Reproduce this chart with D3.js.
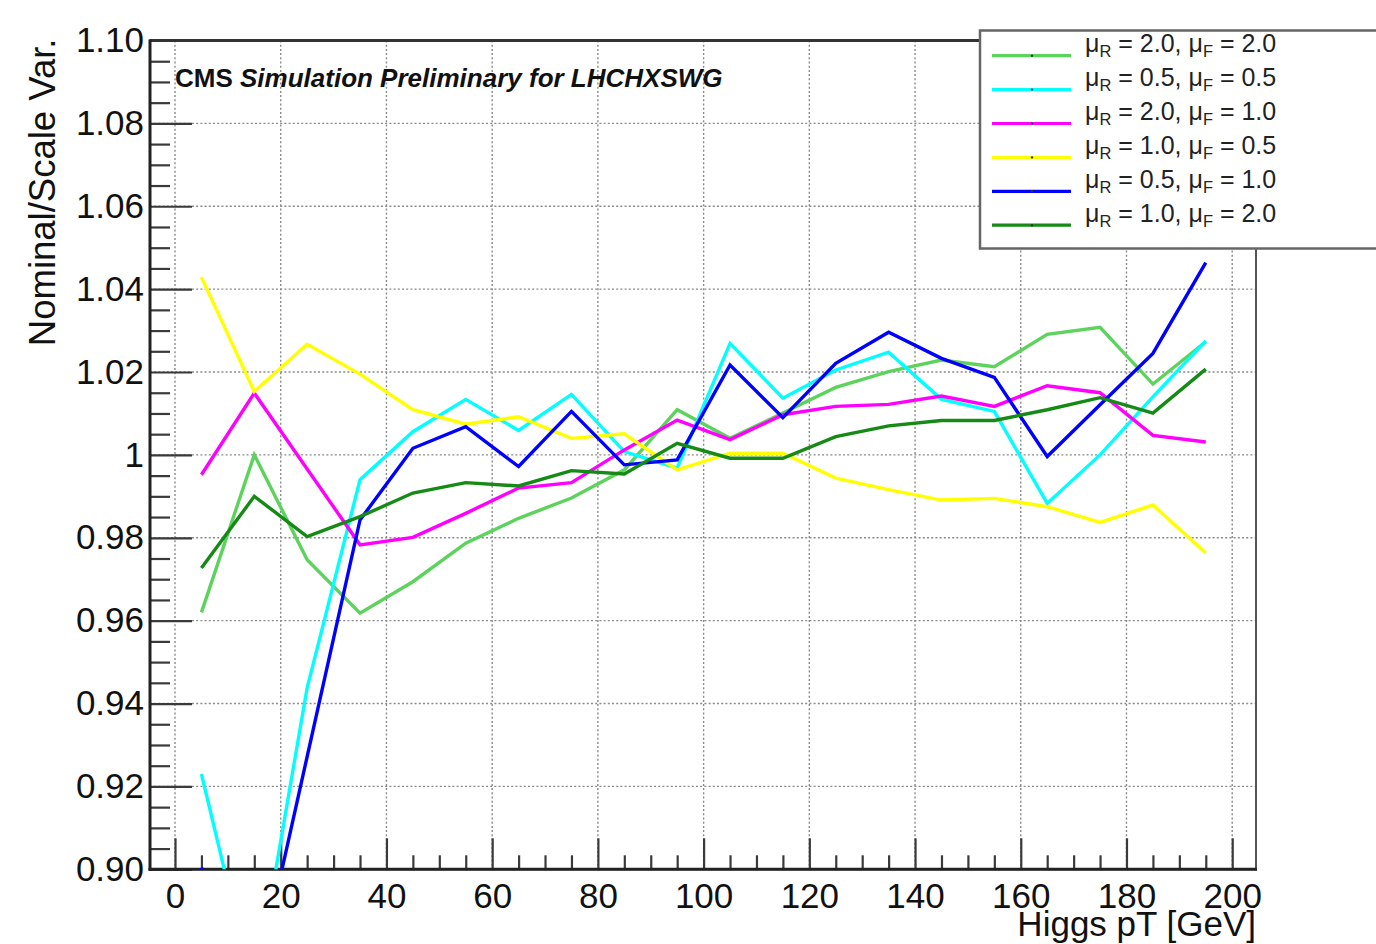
<!DOCTYPE html>
<html><head><meta charset="utf-8">
<script src="https://cdn.jsdelivr.net/npm/d3@7"></script>
<style>
body{margin:0;background:#fff;}
svg{display:block;font-family:"Liberation Sans",Arial,Helvetica,sans-serif;}
</style>
</head><body>
<svg id="c" width="1376" height="944"></svg>
<script>
// ---------- data ----------
const binCenters = [5,15,25,35,45,55,65,75,85,95,105,115,125,135,145,155,165,175,185,195];

const muRLabels = ["2.0","0.5","2.0","1.0","0.5","1.0"];
const muFLabels = ["2.0","0.5","1.0","0.5","1.0","2.0"];

const r20f20 = [0.9620,1.0000,0.9747,0.9618,0.9694,0.9787,0.9847,0.9896,0.9964,1.0109,1.0040,1.0101,1.0163,1.0201,1.0229,1.0213,1.0291,1.0308,1.0171,1.0273];
const r05f05 = [0.9230,0.8698,0.9438,0.9940,1.0056,1.0134,1.0059,1.0146,1.0008,0.9968,1.0269,1.0137,1.0205,1.0248,1.0134,1.0105,0.9883,1.0000,1.0140,1.0275];
const r20f10 = [0.9952,1.0149,0.9966,0.9783,0.9801,0.9859,0.9920,0.9933,1.0012,1.0084,1.0037,1.0097,1.0117,1.0122,1.0142,1.0117,1.0167,1.0150,1.0047,1.0031];
const r10f05 = [1.0429,1.0153,1.0267,1.0195,1.0109,1.0074,1.0092,1.0040,1.0051,0.9964,1.0004,1.0004,0.9944,0.9916,0.9891,0.9895,0.9875,0.9837,0.9879,0.9763];
const r05f10 = [0.9004,0.8700,0.9272,0.9843,1.0016,1.0068,0.9972,1.0105,0.9976,0.9988,1.0217,1.0090,1.0221,1.0296,1.0233,1.0187,0.9996,1.0121,1.0245,1.0464];
const r10f20 = [0.9727,0.9900,0.9803,0.9851,0.9908,0.9933,0.9925,0.9962,0.9954,1.0028,0.9992,0.9992,1.0044,1.0070,1.0083,1.0083,1.0109,1.0138,1.0101,1.0207];

const seriesValues = [r20f20, r05f05, r20f10, r10f05, r05f10, r10f20];
const seriesColors = ["#5cd35c","#00ffff","#ff00ff","#ffff00","#0000ff","#158a15"];

const xMajorTicks = [0,20,40,60,80,100,120,140,160,180,200];
const xMajorLabels = ["0","20","40","60","80","100","120","140","160","180","200"];
const xMinorTicks = [5,10,15,25,30,35,45,50,55,65,70,75,85,90,95,105,110,115,125,130,135,145,150,155,165,170,175,185,190,195];
const yMajorTicks = [0.90,0.92,0.94,0.96,0.98,1.00,1.02,1.04,1.06,1.08,1.10];
const yMajorLabels = ["0.90","0.92","0.94","0.96","0.98","1","1.02","1.04","1.06","1.08","1.10"];
const yMinorTicks = [0.905,0.91,0.915,0.925,0.93,0.935,0.945,0.95,0.955,0.965,0.97,0.975,0.985,0.99,0.995,1.005,1.01,1.015,1.025,1.03,1.035,1.045,1.05,1.055,1.065,1.07,1.075,1.085,1.09,1.095];

const xTitle = "Higgs pT [GeV]";
const yTitle = "Nominal/Scale Var.";

// ---------- layout ----------
const L = 150, R = 1256, T = 40.5, B = 869.3;
const svg = d3.select("#c");
const x = d3.scaleLinear().domain([-4.73, 204.5]).range([L, R]);
const y = d3.scaleLinear().domain([0.90, 1.10]).range([B, T]);

// grid
const grid = svg.append("g").attr("stroke","#8a8a8a").attr("stroke-width",1.4).attr("stroke-dasharray","2,2.2");
grid.selectAll("line.v").data(xMajorTicks).join("line")
  .attr("x1",d=>x(d)).attr("x2",d=>x(d)).attr("y1",T).attr("y2",B);
grid.selectAll("line.h").data(yMajorTicks).join("line")
  .attr("x1",L).attr("x2",R).attr("y1",d=>y(d)).attr("y2",d=>y(d));

// clip
svg.append("clipPath").attr("id","clip").append("rect")
  .attr("x",L).attr("y",T).attr("width",R-L).attr("height",B-T);

// axes ticks (inside)
const fmtX = d => xMajorLabels[xMajorTicks.indexOf(d)];
const fmtY = d => yMajorLabels[yMajorTicks.findIndex(v=>Math.abs(v-d)<1e-9)];

const gxMinor = svg.append("g").attr("transform",`translate(0,${B})`)
  .call(d3.axisBottom(x).tickValues(xMinorTicks).tickSize(-14).tickFormat(""));
const gx = svg.append("g").attr("transform",`translate(0,${B})`)
  .call(d3.axisBottom(x).tickValues(xMajorTicks).tickSize(-31).tickPadding(14).tickFormat(fmtX));
const gyMinor = svg.append("g").attr("transform",`translate(${L},0)`)
  .call(d3.axisLeft(y).tickValues(yMinorTicks).tickSize(-20).tickFormat(""));
const gy = svg.append("g").attr("transform",`translate(${L},0)`)
  .call(d3.axisLeft(y).tickValues(yMajorTicks).tickSize(-42).tickPadding(6).tickFormat(fmtY));

[gxMinor,gx,gyMinor,gy].forEach(g=>{
  g.select(".domain").remove();
  g.selectAll(".tick line").attr("stroke","#3a3a3a").attr("stroke-width",2.2);
  g.selectAll("text").attr("font-size",35).attr("fill","#111").attr("font-family","Liberation Sans, Arial, sans-serif");
});

// frame
svg.append("rect").attr("x",L).attr("y",T).attr("width",R-L).attr("height",B-T)
  .attr("fill","none").attr("stroke","#555").attr("stroke-width",2);
svg.append("line").attr("x1",L).attr("x2",R).attr("y1",T).attr("y2",T).attr("stroke","#333").attr("stroke-width",3);
svg.append("line").attr("x1",L).attr("x2",L).attr("y1",T-1).attr("y2",B+1.5).attr("stroke","#222").attr("stroke-width",3);
svg.append("line").attr("x1",L-1.5).attr("x2",R+1).attr("y1",B).attr("y2",B).attr("stroke","#222").attr("stroke-width",3);

// series lines
const line = d3.line().x((d,i)=>x(binCenters[i])).y(d=>y(d));
const lines = svg.append("g").attr("clip-path","url(#clip)");
seriesValues.forEach((vals,k)=>{
  lines.append("path").datum(vals).attr("d",line)
    .attr("fill","none").attr("stroke",seriesColors[k]).attr("stroke-width",3.4)
    .attr("stroke-linejoin","miter");
});

// CMS label
const cms = svg.append("text").attr("x",175).attr("y",87).attr("font-size",26)
  .attr("font-weight","bold").attr("fill","#111");
cms.append("tspan").text("CMS ");
cms.append("tspan").attr("font-style","italic").text("Simulation Preliminary for LHCHXSWG");

// axis titles
svg.append("text").attr("x",R).attr("y",936).attr("text-anchor","end")
  .attr("font-size",35).attr("fill","#111").text(xTitle);
svg.append("text").attr("transform",`translate(55,${T-2}) rotate(-90)`).attr("text-anchor","end")
  .attr("font-size",36.5).attr("fill","#111").text(yTitle);

// legend
const lg = svg.append("g");
lg.append("rect").attr("x",980).attr("y",30.5).attr("width",420).attr("height",218)
  .attr("fill","#fff").attr("stroke","#666").attr("stroke-width",2.5);
seriesColors.forEach((c,k)=>{
  const ly = 55.7 + k*33.9;
  lg.append("line").attr("x1",992).attr("x2",1071).attr("y1",ly).attr("y2",ly)
    .attr("stroke",c).attr("stroke-width",3.2);
  lg.append("circle").attr("cx",1032).attr("cy",ly).attr("r",1.2).attr("fill","#333");
  const t = lg.append("text").attr("x",1085).attr("y",ly-3.5).attr("font-size",25).attr("fill","#222");
  t.append("tspan").text("\u03bc");
  t.append("tspan").attr("font-size",16.5).attr("dy",5).text("R");
  t.append("tspan").attr("dy",-5).text(" = " + muRLabels[k] + ", \u03bc");
  t.append("tspan").attr("font-size",16.5).attr("dy",5).text("F");
  t.append("tspan").attr("dy",-5).text(" = " + muFLabels[k]);
});
</script>
</body></html>
